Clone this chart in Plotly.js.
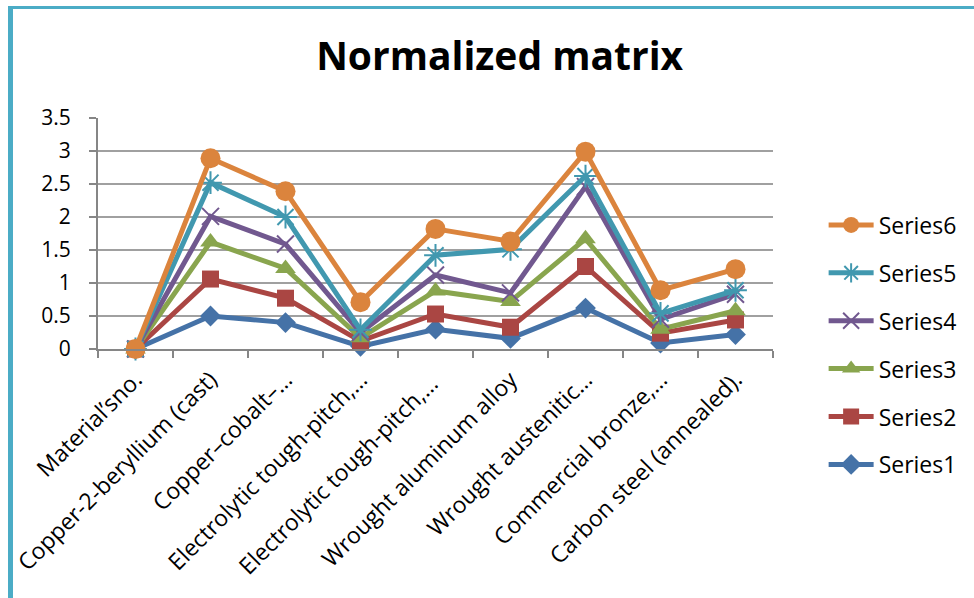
<!DOCTYPE html>
<html>
<head>
<meta charset="utf-8">
<script src="https://cdn.plot.ly/plotly-3.0.1.min.js"></script>
<style>
  html, body { margin: 0; padding: 0; background: #ffffff; }
  #wrap { position: relative; width: 974px; height: 598px; overflow: hidden; }
  #chart { position: absolute; left: 0; top: 0; width: 974px; height: 598px; }
  #frame { position: absolute; left: 8px; top: 6px; width: 966px; height: 592px;
           border-left: 5px solid #4BACC6; border-top: 3px solid #4BACC6;
           box-sizing: border-box; pointer-events: none; }
</style>
</head>
<body>
<div id="wrap">
  <div id="chart"></div>
  <div id="frame"></div>
</div>
<script>
// Categories (x-axis tick labels as shown, truncated like the original)
const categories = [
  "Material\u2019sno.",
  "Copper-2-beryllium (cast)",
  "Copper\u2013cobalt\u2013\u2026",
  "Electrolytic tough-pitch,\u2026",
  "Electrolytic tough-pitch,\u2026 ",
  "Wrought aluminum alloy",
  "Wrought austenitic\u2026",
  "Commercial bronze,\u2026",
  "Carbon steel (annealed)."
];

// Plotted (stacked/cumulative) values
const series1 = [0, 0.50, 0.40, 0.04, 0.30, 0.16, 0.62, 0.09, 0.22];
const series2 = [0, 1.06, 0.77, 0.12, 0.53, 0.33, 1.25, 0.24, 0.44];
const series3 = [0, 1.62, 1.22, 0.17, 0.88, 0.72, 1.67, 0.30, 0.58];
const series4 = [0, 2.01, 1.59, 0.25, 1.12, 0.85, 2.46, 0.45, 0.83];
const series5 = [0, 2.52, 2.00, 0.29, 1.42, 1.51, 2.62, 0.54, 0.89];
const series6 = [0, 2.89, 2.39, 0.71, 1.82, 1.63, 2.99, 0.89, 1.21];

const seriesNames = ["Series1", "Series2", "Series3", "Series4", "Series5", "Series6"];
const seriesData = [series1, series2, series3, series4, series5, series6];
const colors = ["#4572A7", "#AA4643", "#89A54E", "#71588F", "#4198AF", "#DB843D"];
const symbols = ["diamond", "square", "triangle-up", "x-thin-open", "asterisk-open", "circle"];
const sizes = [16, 17, 18, 17, 19, 20];

const traces = seriesData.map((vals, i) => {
  const open = symbols[i].endsWith("-open");
  return {
    type: "scatter",
    mode: "lines+markers",
    name: seriesNames[i],
    legendgroup: seriesNames[i],
    legendrank: 100 - i,
    x: categories,
    y: vals,
    line: { color: colors[i], width: 5 },
    marker: {
      symbol: symbols[i],
      size: sizes[i],
      color: colors[i],
      line: open ? { color: colors[i], width: 2 } : { width: 0 }
    },
    cliponaxis: false
  };
});

const layout = {
  width: 974,
  height: 598,
  paper_bgcolor: "#ffffff",
  plot_bgcolor: "#ffffff",
  margin: { l: 98, r: 198, t: 118, b: 249, pad: 0 },
  title: {
    text: "<b>Normalized matrix</b>",
    font: { family: "Open Sans, sans-serif", size: 39, color: "#000000" },
    x: 0.513, xref: "container", xanchor: "center",
    y: 0.905, yref: "container", yanchor: "middle"
  },
  xaxis: {
    type: "category",
    range: [-0.5, 8.5],
    showgrid: false,
    showline: true,
    linecolor: "#868686",
    linewidth: 2,
    ticks: "outside",
    tickson: "boundaries",
    ticklen: 7,
    tickwidth: 2,
    tickcolor: "#868686",
    tickangle: -45,
    tickfont: { family: "Open Sans, sans-serif", size: 23, color: "#000000" },
    ticklabelstandoff: 6,
    zeroline: false
  },
  yaxis: {
    range: [0, 3.5],
    dtick: 0.5,
    showgrid: true,
    gridcolor: "#A0A0A0",
    gridwidth: 2,
    showline: true,
    linecolor: "#868686",
    linewidth: 2,
    ticks: "outside",
    ticklen: 7,
    tickwidth: 2,
    tickcolor: "#868686",
    tickfont: { family: "Open Sans, sans-serif", size: 21, color: "#000000" },
    ticklabelstandoff: 14,
    zeroline: false
  },
  showlegend: true,
  legend: {
    x: 1.075, xanchor: "left",
    y: 0.63, yanchor: "top",
    traceorder: "grouped",
    tracegroupgap: 15,
    font: { family: "Open Sans, sans-serif", size: 23, color: "#000000" },
    bgcolor: "rgba(0,0,0,0)",
    borderwidth: 0,
    itemwidth: 45,
    maxheight: 420
  }
};

Plotly.newPlot("chart", traces, layout, { displayModeBar: false, staticPlot: true });
</script>
</body>
</html>
